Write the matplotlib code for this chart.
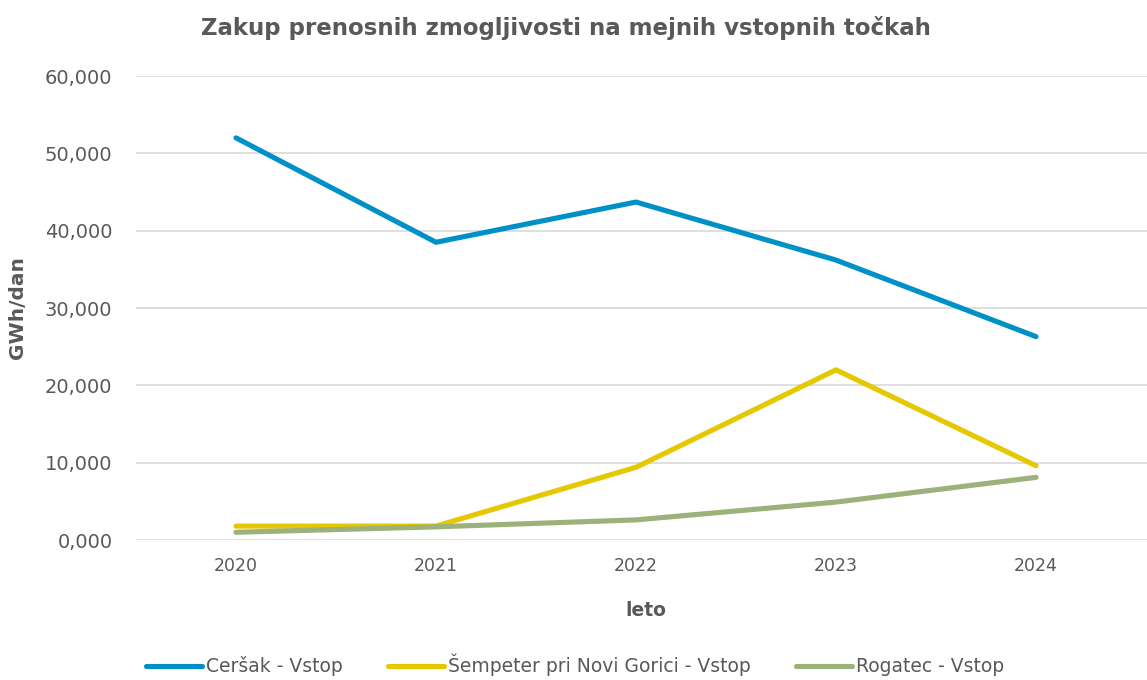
import matplotlib
matplotlib.use("Agg")
import matplotlib.pyplot as plt
from matplotlib.ticker import FuncFormatter

# data (GWh/dan)
years = ["2020", "2021", "2022", "2023", "2024"]
cersak = [52.0, 38.5, 43.7, 36.2, 26.3]
sempeter = [1.8, 1.8, 9.4, 22.0, 9.6]
rogatec = [1.0, 1.7, 2.6, 4.9, 8.1]
series_names = ["Ceršak - Vstop", "Šempeter pri Novi Gorici - Vstop", "Rogatec - Vstop"]
y_ticks = [0, 10, 20, 30, 40, 50, 60]

colors = ["#0090C8", "#E6C800", "#9BB27A"]
text_gray = "#595959"

plt.rcParams["font.family"] = ["DejaVu Sans"]

fig = plt.figure(figsize=(11.47, 6.8), dpi=100)
ax = fig.add_axes([136 / 1147, 140 / 680, (1147 - 136) / 1147, 464 / 680])

x = list(range(len(years)))
for vals, name, c in zip([cersak, sempeter, rogatec], series_names, colors):
    ax.plot(x, vals, color=c, linewidth=3.7, solid_capstyle="round",
            solid_joinstyle="round", label=name)

ax.set_ylim(0, 60)
ax.set_xlim(-0.5, 4.555)
ax.set_yticks(y_ticks)
ax.yaxis.set_major_formatter(FuncFormatter(lambda v, p: f"{v:.3f}".replace(".", ",")))
ax.set_xticks(x)
ax.set_xticklabels(years)
ax.tick_params(axis="both", length=0, colors=text_gray)
ax.tick_params(axis="y", labelsize=14, pad=17)
ax.tick_params(axis="x", labelsize=12.5, pad=12)
ax.grid(axis="y", color="#D9D9D9", linewidth=1.2)
ax.set_axisbelow(True)
for s in ax.spines.values():
    s.set_visible(False)

fig.text(566 / 1147, 0.959, "Zakup prenosnih zmogljivosti na mejnih vstopnih točkah",
         ha="center", va="center", fontsize=16.5, fontweight="bold", color=text_gray)
fig.text(646 / 1147, 1 - 610 / 680, "leto", ha="center", va="center",
         fontsize=13.5, fontweight="bold", color=text_gray)
fig.text(18 / 1147, 1 - 308 / 680, "GWh/dan", ha="center", va="center", rotation=90,
         fontsize=14.5, fontweight="bold", color=text_gray)

leg = fig.legend(loc="center", bbox_to_anchor=(575 / 1147, 1 - 665 / 680), ncol=3,
                 frameon=False, fontsize=13.5, handlelength=3.0, handletextpad=0.2,
                 columnspacing=2.4)
for t in leg.get_texts():
    t.set_color(text_gray)

fig.savefig("out.png", dpi=100)
